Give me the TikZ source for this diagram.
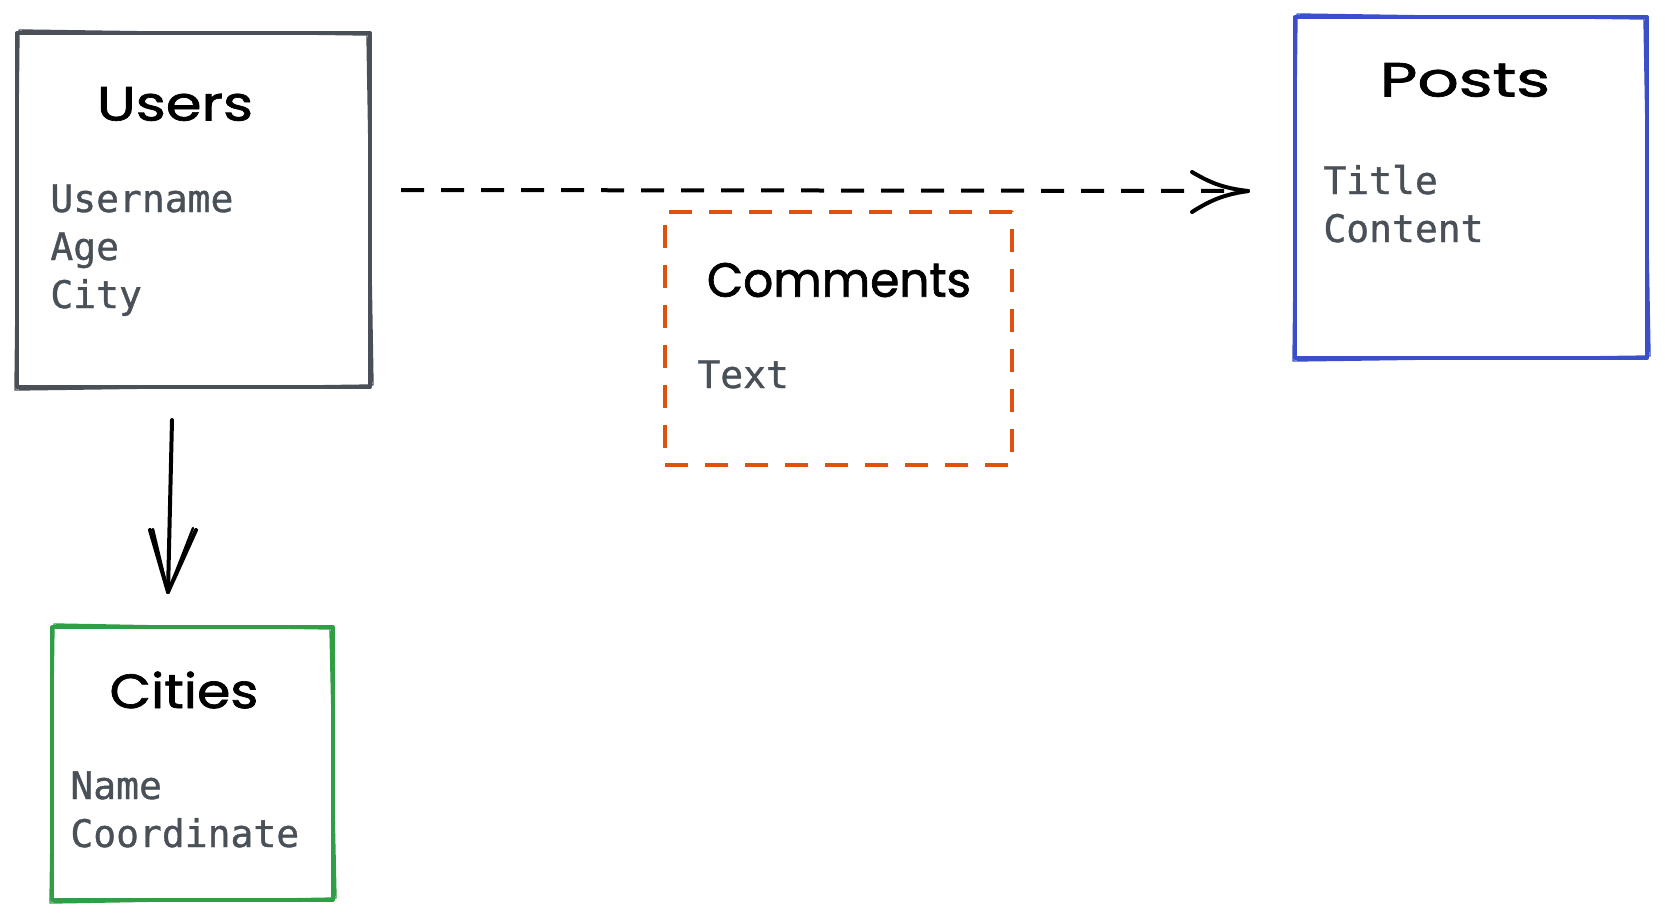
\documentclass[tikz,border=0pt]{standalone}
\usepackage{fontspec}
\newfontfamily\fldfont[FakeBold=1.0]{DejaVu Sans Mono}
\newfontfamily\handfont[FakeBold=1.4]{Poppins}
\usetikzlibrary{calc}
\definecolor{ugray}{HTML}{495057}
\definecolor{pblue}{HTML}{3A4FC8}
\definecolor{cgreen}{HTML}{2F9E44}
\definecolor{corange}{HTML}{E0500F}
\newcommand{\roughbox}[2]{%
  \draw[#2, line width=0.7pt, line join=round]
    ($(#1.north west)+(2,-3)$) -- ($(#1.north east)+(-3,2)$) --
    ($(#1.south east)+(3,-2)$) -- ($(#1.south west)+(-2,3)$) -- cycle;}
\tikzset{
  box/.style={draw, line width=2pt, inner sep=0pt, outer sep=0pt, line join=round},
  ttl/.style={font=\handfont\fontsize{24pt}{30pt}\selectfont, text=black, inner sep=0pt, anchor=center},
  fld/.style={font=\fldfont\fontsize{19pt}{24pt}\selectfont, text=ugray, align=left, anchor=base west, inner sep=0pt},
  conn/.style={black, line width=2pt, line cap=round},
  dashconn/.style={black, line width=2pt, dash pattern=on 11.5pt off 8.5pt},
  arm/.style={black, line width=2pt, line cap=round},
}
\begin{document}
\begin{tikzpicture}[x=0.5pt,y=-0.5pt]
\useasboundingbox (0,0) rectangle (1665,922);

% boxes
\node[box, draw=ugray, minimum width=176.5pt, minimum height=177pt] (users) at (193.5,210) {};
\roughbox{users}{ugray}
\node[box, draw=pblue, minimum width=176pt, minimum height=170.5pt] (posts) at (1471,187.5) {};
\roughbox{posts}{pblue}
\node[box, draw=corange, line width=1.8pt, dash pattern=on 11.5pt off 8.5pt, minimum width=173.5pt, minimum height=126.5pt] (comments) at (838.5,338.5) {};
\node[box, draw=cgreen, line width=1.6pt, minimum width=140.5pt, minimum height=136.5pt] (cities) at (192.5,763.5) {};
\roughbox{cities}{cgreen}

% titles
\node[ttl] (usersT) at (175,104) {\scalebox{1.2}[1]{Users}};
\node[ttl] (postsT) at (1465,80) {\scalebox{1.35}[1]{Posts}};
\node[ttl] (commentsT) at (839,280) {\scalebox{0.98}[1]{Comments}};
\node[ttl] (citiesT) at (184,690) {\scalebox{1.12}[1]{Cities}};

% fields (anchored at the baseline of the last line)
\node[fld] (usersF) at (50,308) {Username\\Age\\City};
\node[fld] (postsF) at (1323,242) {Title\\Content};
\node[fld] (commentsF) at (697,388) {Text};
\node[fld] (citiesF) at (70,847) {Name\\Coordinate};

% dashed connector users -> posts
\coordinate (ds) at ($(users.east)+(31,-20)$);
\coordinate (dt) at ($(posts.west)+(-47,3.5)$);
\draw[dashconn] (ds) -- (dt);
\draw[arm] (dt) to[bend left=12] ($(dt)+(-56,-19)$);
\draw[arm] (dt) to[bend right=12] ($(dt)+(-56,21)$);

% solid connector users -> cities
\coordinate (vs) at ($(users.south)+(-21.5,33)$);
\coordinate (vt) at ($(cities.north)+(-24.5,-35)$);
\draw[conn] (vs) -- (vt);
\draw[arm] (vt) -- ($(vt)+(-18,-62)$);
\draw[arm, line width=1.2pt] (vt) -- ($(vt)+(-15,-63)$);
\draw[arm] (vt) -- ($(vt)+(28,-62)$);
\draw[arm, line width=1.2pt] (vt) -- ($(vt)+(25,-64)$);
\end{tikzpicture}
\end{document}
